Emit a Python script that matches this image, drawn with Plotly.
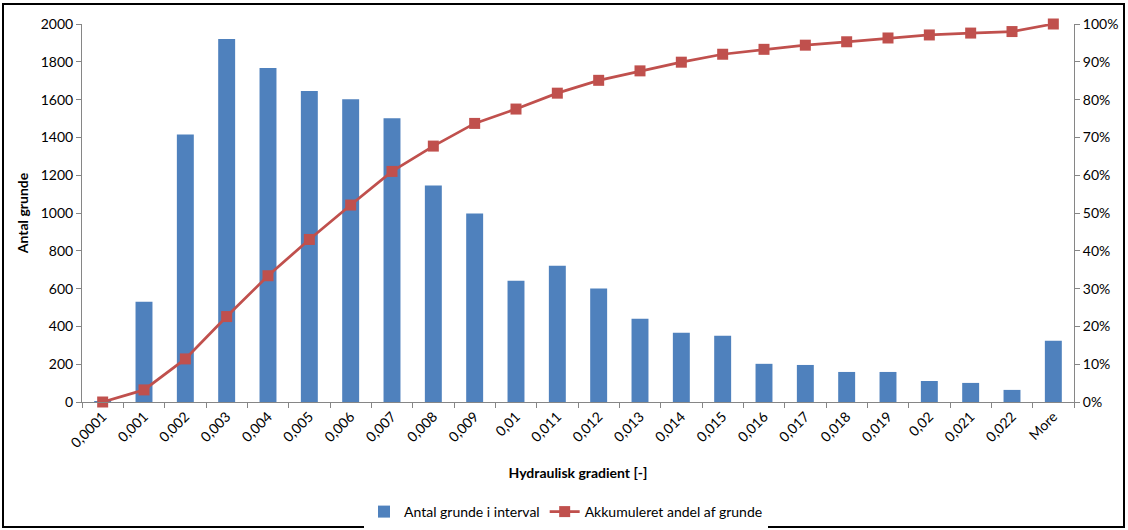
import plotly.graph_objects as go

categories = ["0,0001", "0,001", "0,002", "0,003", "0,004", "0,005", "0,006", "0,007",
              "0,008", "0,009", "0,01", "0,011", "0,012", "0,013", "0,014", "0,015",
              "0,016", "0,017", "0,018", "0,019", "0,02", "0,021", "0,022", "More"]
counts = [5, 530, 1415, 1920, 1767, 1645, 1602, 1501, 1146, 997, 642, 721, 600, 440,
          366, 350, 202, 196, 159, 159, 111, 101, 64, 324]
cumulative = [0.0, 0.032, 0.114, 0.226, 0.334, 0.430, 0.521, 0.610, 0.677, 0.737, 0.775,
              0.817, 0.851, 0.876, 0.899, 0.920, 0.933, 0.944, 0.953, 0.963, 0.971,
              0.976, 0.980, 1.0]

FONT = "Lato, 'Open Sans', sans-serif"
AXIS_GRAY = "#868686"

fig = go.Figure()
fig.add_trace(go.Bar(
    x=categories, y=counts, name="Antal grunde i interval",
    marker=dict(color="#4F81BD", line=dict(width=0)),
    yaxis="y",
))
fig.add_trace(go.Scatter(
    x=categories, y=cumulative, name="Akkumuleret andel af grunde",
    mode="lines+markers",
    line=dict(color="#C0504D", width=2.75),
    marker=dict(symbol="square", size=11, color="#C0504D"),
    cliponaxis=False,
    yaxis="y2",
))

fig.update_layout(
    width=1128, height=530,
    margin=dict(l=82, r=54, t=24, b=128, autoexpand=False),
    paper_bgcolor="white", plot_bgcolor="white",
    font=dict(family=FONT, size=14, color="#000000"),
    bargap=0.59,
    showlegend=True,
    legend=dict(orientation="h", x=(566 - 82) / 992, xanchor="center", y=-0.291, yanchor="middle",
                font=dict(size=14)),
    xaxis=dict(
        type="category", range=[-0.5, len(categories) - 0.5],
        tickangle=-45, tickson="boundaries",
        ticks="outside", ticklen=5, tickcolor=AXIS_GRAY,
        showline=True, linecolor=AXIS_GRAY, linewidth=1,
        showgrid=False, zeroline=False,
        title=dict(text="<b>Hydraulisk gradient [-]</b>", font=dict(size=14), standoff=18),
        automargin=False,
    ),
    yaxis=dict(
        range=[0, 2000], dtick=200, ticks="outside", ticklen=5, tickcolor=AXIS_GRAY,
        showline=True, linecolor=AXIS_GRAY, linewidth=1,
        showgrid=False, zeroline=False,
        title=dict(text="<b>Antal grunde</b>", font=dict(size=14), standoff=8),
        automargin=False,
    ),
    yaxis2=dict(
        range=[0, 1], dtick=0.1, tickformat=".0%", overlaying="y", side="right",
        ticks="outside", ticklen=5, tickcolor=AXIS_GRAY,
        showline=True, linecolor=AXIS_GRAY, linewidth=1,
        showgrid=False, zeroline=False, automargin=False,
    ),
    shapes=[dict(type="rect", xref="paper", yref="paper",
                 x0=(3 - 82) / 992, x1=(1124 - 82) / 992,
                 y0=(402 - 527) / 378, y1=(402 - 4) / 378,
                 line=dict(color="black", width=2), fillcolor="rgba(0,0,0,0)",
                 layer="above")],
)

fig.write_html("out.html", config={"displayModeBar": False},
               post_script="document.body.style.margin='0';document.body.style.overflow='hidden';")
